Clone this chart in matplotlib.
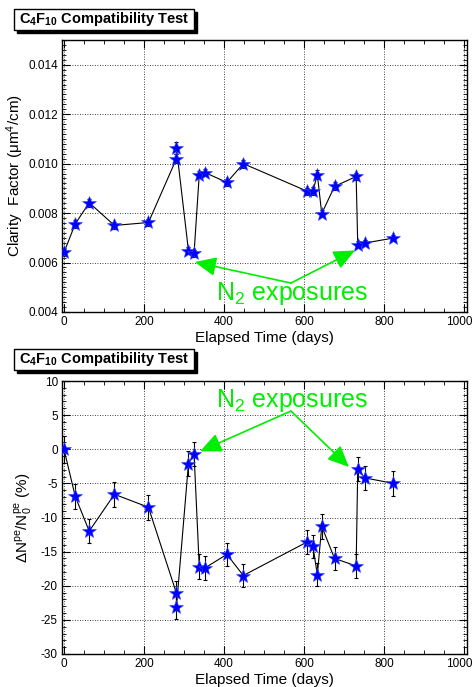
import matplotlib
matplotlib.use("Agg")
import matplotlib.pyplot as plt
import matplotlib.transforms as mtransforms
from matplotlib.patches import Rectangle
from matplotlib.ticker import MultipleLocator, FormatStrFormatter

plt.rcParams['font.family'] = ['Liberation Sans', 'DejaVu Sans']
plt.rcParams['mathtext.fontset'] = 'custom'
plt.rcParams['mathtext.rm'] = 'Liberation Sans'
plt.rcParams['mathtext.it'] = 'Liberation Sans:italic'
plt.rcParams['mathtext.bf'] = 'Liberation Sans:bold'
plt.rcParams['mathtext.default'] = 'regular'
plt.rcParams['axes.unicode_minus'] = False

# elapsed time of each measurement (days)
days = [0, 28, 63, 126, 211, 281, 281, 311, 325, 338, 352, 407, 448,
        607, 622, 633, 644, 676, 730, 734, 752, 823]

# clarity factor (um^4/cm)
clarity = [0.00641, 0.00756, 0.00842, 0.00750, 0.00762, 0.01020, 0.01063,
           0.00648, 0.00638, 0.00956, 0.00964, 0.00924, 0.01000,
           0.00889, 0.00889, 0.00956, 0.00798, 0.00908, 0.00948,
           0.00672, 0.00679, 0.00699]
clarity_err = [0.00015, 0.00015, 0.00016, 0.00014, 0.00014, 0.00018, 0.00024,
               0.00014, 0.00014, 0.00016, 0.00016, 0.00014, 0.00016,
               0.00014, 0.00016, 0.00018, 0.00014, 0.00016, 0.00016,
               0.00014, 0.00012, 0.00012]

# relative photoelectron change (%)
dnpe = [0.0, -6.9, -12.0, -6.6, -8.5, -21.1, -23.1, -2.1, -0.7, -17.2, -17.4,
        -15.4, -18.5, -13.6, -14.2, -18.4, -11.3, -16.0, -17.1, -2.9, -4.2, -5.0]
dnpe_err = [2.0, 1.8, 1.8, 1.8, 1.8, 1.8, 1.7, 1.8, 1.8, 1.8, 1.7,
            1.7, 1.7, 1.7, 1.7, 1.7, 1.8, 1.7, 1.8, 1.8, 1.7, 1.8]

green = '#00ee00'
title_txt = r'C$_4$F$_{10}$ Compatibility Test'

fig = plt.figure(figsize=(4.74, 6.87), dpi=100)
W, H = 474.0, 687.0


def px_axes(left, top, right, bottom):
    return fig.add_axes([left / W, 1 - bottom / H, (right - left) / W, (bottom - top) / H])


def title_box(top):
    # ROOT style pave with shadow
    x0, x1 = 14, 194
    y0, y1 = top, top + 21
    fig.patches.append(Rectangle(((x0 + 3) / W, 1 - (y1 + 3) / H), (x1 - x0) / W, (y1 - y0) / H,
                                 transform=fig.transFigure, facecolor='black', edgecolor='black'))
    fig.patches.append(Rectangle((x0 / W, 1 - y1 / H), (x1 - x0) / W, (y1 - y0) / H,
                                 transform=fig.transFigure, facecolor='white', edgecolor='black', lw=1))
    fig.text((x0 + x1) / 2 / W, 1 - (y0 + y1) / 2 / H, title_txt, ha='center', va='center',
             fontsize=10.5, fontweight='bold')


def style_axis(ax, ymaj, ymin):
    ax.set_xlim(-5, 1007)
    ax.xaxis.set_major_locator(MultipleLocator(200))
    ax.xaxis.set_minor_locator(MultipleLocator(50))
    ax.yaxis.set_major_locator(MultipleLocator(ymaj))
    ax.yaxis.set_minor_locator(MultipleLocator(ymin))
    ax.tick_params(which='both', direction='in', top=True, right=True, labelsize=8.5, pad=3)
    ax.tick_params(which='major', length=6, width=0.8)
    ax.tick_params(which='minor', length=3, width=0.6)
    ax.grid(True, which='major', color='black', linestyle=(0, (1, 2)), linewidth=0.6)
    for sp in ax.spines.values():
        sp.set_linewidth(1.0)
    ax.set_xlabel('Elapsed Time (days)', fontsize=11, labelpad=2)


def shift_last_xlabel(ax):
    # keep the "1000" label inside the canvas
    fig.canvas.draw()
    labels = ax.get_xticklabels()
    for lab in labels:
        if lab.get_text() == '1000':
            off = mtransforms.ScaledTranslation(-5 / 100.0, 0, fig.dpi_scale_trans)
            lab.set_transform(lab.get_transform() + off)


def draw_data(ax, y, yerr):
    ax.plot(days, y, color='black', lw=0.8, zorder=2)
    ax.errorbar(days, y, yerr=yerr, fmt='none', ecolor='black', elinewidth=0.8,
                capsize=1.5, capthick=0.8, zorder=3)
    ax.plot(days, y, linestyle='none', marker='*', markersize=10, color='blue',
            markeredgecolor='#3344ff', markeredgewidth=0.4, zorder=4)


def exposures(ax, text_xy, vertex, tips):
    ax.text(text_xy[0], text_xy[1], r'N$_2$ exposures', color=green, fontsize=18,
            ha='left', va='baseline', zorder=5)
    for tip in tips:
        ax.annotate('', xy=tip, xytext=vertex,
                    arrowprops=dict(arrowstyle='-|>,head_length=1.0,head_width=0.45',
                                    mutation_scale=13, color=green, lw=1.2,
                                    shrinkA=0, shrinkB=0), zorder=5)


# top panel: clarity
ax1 = px_axes(62, 40, 467, 312)
draw_data(ax1, clarity, clarity_err)
style_axis(ax1, 0.002, 0.0002)
ax1.set_ylim(0.004, 0.015)
ax1.yaxis.set_major_formatter(FormatStrFormatter('%.3f'))
ax1.set_ylabel(r'Clarity  Factor ($\mu$m$^4$/cm)', fontsize=11)
ax1.yaxis.set_label_coords(-0.088, 0.5)
exposures(ax1, (380, 0.00447), (567, 0.00517), [(327, 0.00602), (727, 0.00649)])
title_box(9)

# bottom panel: photoelectrons
ax2 = px_axes(62, 381, 467, 654)
draw_data(ax2, dnpe, dnpe_err)
style_axis(ax2, 5, 1)
ax2.set_ylim(-30, 10)
ax2.yaxis.set_major_formatter(FormatStrFormatter('%d'))
ax2.set_ylabel(r'$\Delta$N$^{pe}$/N$_0^{pe}$ (%)', fontsize=11)
ax2.yaxis.set_label_coords(-0.068, 0.5)
exposures(ax2, (380, 6.2), (567, 5.6), [(340, -0.3), (712, -2.6)])
title_box(349)

shift_last_xlabel(ax1)
shift_last_xlabel(ax2)

fig.savefig('out.png', dpi=100)
